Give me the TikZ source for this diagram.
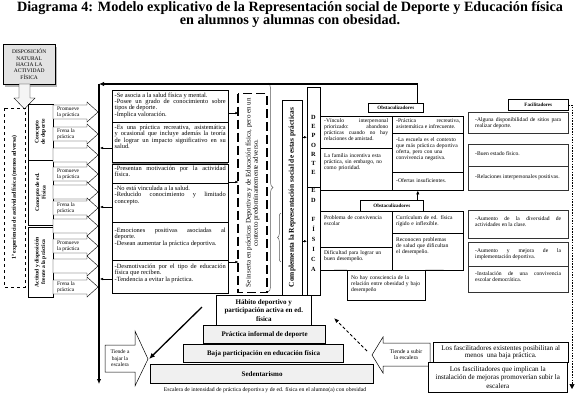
\documentclass[tikz,border=0pt]{standalone}
\usepackage{fontspec}
\setmainfont{Liberation Serif}
\usetikzlibrary{arrows.meta,decorations.pathreplacing,calc}
\newcommand\rarr[3]{%
 \draw[line width=0.4pt, fill=white] (53,#1-7) -- (87,#1-7) -- (87,#1-10) -- (98,#1) -- (87,#1+10) -- (87,#1+7) -- (53,#1+7) -- cycle;
 \node[font=\fontsize{5.4}{5.8}\selectfont, align=left, anchor=west] (#3) at (57,#1) {#2};}
\begin{document}
\begin{tikzpicture}[x=1pt,y=-1pt,
 every node/.style={inner sep=0pt},
 bx/.style={draw, line width=0.45pt, anchor=north west},
 mt/.style={font=\fontsize{6.4}{6.3}\selectfont, align=justify, anchor=north west},
 gt/.style={font=\fontsize{5.6}{6.1}\selectfont, align=justify, anchor=north west},
 sm/.style={line width=0.5pt, -{Latex[length=3pt,width=2.6pt]}},
 hd/.style={draw, line width=0.6pt, anchor=north west, font=\bfseries\fontsize{5}{6}\selectfont},
 fb/.style={draw=black!80, line width=0.9pt, anchor=north west},
 pyr/.style={draw, line width=1.2pt, fill=gray!12, anchor=north west, font=\bfseries\fontsize{7}{8}\selectfont},
 rot/.style={draw, rotate=90, align=center},
]
\useasboundingbox (0,0) rectangle (580,400);

% title
\node[font=\bfseries\fontsize{14.2}{13}\selectfont, align=center] (title) at (290,15)
 {Diagrama 4: Modelo explicativo de la Representación social de Deporte y Educación física\\en alumnos y alumnas con obesidad.};

% disposition box
\fill[gray!55] (5,47) rectangle (57,87);
\node[draw, fill=gray!22, minimum width=52, minimum height=40, anchor=north west, font=\fontsize{5.5}{6.4}\selectfont, align=center] (disp) at (3,44) {DISPOSICIÓN\\NATURAL\\HACIA LA\\ACTIVIDAD\\FÍSICA};
\draw[line width=0.4pt, fill=gray!8] (19,84) -- (30,84) -- (30,98) -- (35,98) -- (24.5,109) -- (14,98) -- (19,98) -- cycle;

% left dashed box and concept boxes
\node[rot, dashed, line width=0.6pt, minimum width=179, minimum height=21, font=\bfseries\fontsize{5.9}{6}\selectfont] (exp) at (14.5,197.5) {1ª experiencia de actividad física (menos adversa)};
\node[rot, minimum width=56, minimum height=25, font=\bfseries\fontsize{5.6}{6.4}\selectfont] (cd) at (40.5,132) {Concepto\\de deporte};
\node[rot, minimum width=65, minimum height=25, font=\bfseries\fontsize{5.6}{6.4}\selectfont] (ce) at (40.5,192.5) {Concepto de ed.\\Física};
\node[rot, minimum width=70, minimum height=25, font=\bfseries\fontsize{5.6}{6.4}\selectfont] (ca) at (40.5,262) {Actitud y disposición\\frente a la práctica};

% arrow column
\rarr{112}{Promueve\\la práctica}{a1}
\rarr{134}{Frena la\\práctica}{a2}
\rarr{155}{}{a3}
\rarr{174}{Promueve\\la práctica}{a4}
\rarr{192}{}{a5}
\rarr{208}{Frena la\\práctica}{a6}
\rarr{226}{}{a7}
\rarr{246}{Promueve\\la práctica}{a8}
\rarr{266}{}{a9}
\rarr{287}{Frena la\\práctica}{a10}

% big vertical line
\coordinate (vt) at (99,84);
\coordinate (vb) at (99,384);
\draw[line width=1.3pt, -{Latex[length=5pt,width=4.5pt]}] (vt) -- (vb);

% middle column
\node[bx, minimum width=116, minimum height=32] (c1) at (112,90) {};
\node[bx, minimum width=116, minimum height=40] (c2) at (112,122) {};
\node[bx, minimum width=116, minimum height=19] (c3) at (112,164) {};
\node[bx, minimum width=116, minimum height=39] (c4) at (112,183) {};
\node[bx, minimum width=116, minimum height=38] (c5) at (112,222) {};
\node[bx, minimum width=116, minimum height=33] (c6) at (112,260) {};
\draw[gray, line width=1.3pt] ($(c2.south west)+(0,1)$) -- ($(c2.south east)+(0,1)$);
\node[mt, text width=111] (t1) at ($(c1.north west)+(2.5,2.5)$) {-Se asocia a la salud física y mental.\\-Posee un grado de conocimiento sobre\linebreak tipos de deporte.\\-Implica valoración.};
\node[mt, text width=111] (t2) at ($(c2.north west)+(2.5,3)$) {-Es una práctica recreativa, asistemática\linebreak y ocasional que incluye además la teoría\linebreak de lograr un impacto significativo en su\linebreak salud.};
\node[mt, text width=111] (t3) at ($(c3.north west)+(2.5,2)$) {-Presentan motivación por la actividad\linebreak física.};
\node[mt, text width=111] (t4) at ($(c4.north west)+(2.5,3)$) {-No está vinculada a la salud.\\-Reducido conocimiento y limitado\linebreak concepto.};
\node[mt, text width=111] (t5) at ($(c5.north west)+(2.5,6)$) {-Emociones positivas asociadas al\linebreak deporte.\\-Desean aumentar la práctica deportiva.};
\node[mt, text width=111] (t6) at ($(c6.north west)+(2.5,4)$) {-Desmotivación por el tipo de educación\linebreak física que reciben.\\-Tendencia a evitar la práctica.};

% dashed context box + braces
\node[rot, line width=1.6pt, dash pattern=on 9pt off 4pt, minimum width=199, minimum height=29, font=\fontsize{7}{7.2}\selectfont] (ins) at (252.5,193) {Se inserta en prácticas Deportivas y de Educación física, pero en un\\contexto predominantemente adverso.};
\draw[sm] ($(c1.north east)+(0,23)$) -- ($(c1.north east)+(10,23)$);
\draw[sm] ($(c3.north east)+(0,18)$) -- ($(c3.north east)+(10,18)$);
\draw[sm] ($(c6.north east)+(0,2)$) -- ($(c6.north east)+(10,2)$);
\draw[sm] ($(c2.north west)+(0,26)$) -- ($(c2.north west)+(-12,26)$);
\draw[sm] ($(c4.north west)+(0,24)$) -- ($(c4.north west)+(-12,24)$);
\draw[sm] ($(c6.north west)+(0,19)$) -- ($(c6.north west)+(-12,19)$);
\draw[gray!70!black, line width=0.5pt, decorate, decoration={brace, amplitude=5pt}] (268,83) -- (268,292);
\draw[gray!70!black, line width=0.5pt, decorate, decoration={brace, amplitude=3.5pt}] (281,262) -- (281,213);

% complementa
\node[rot, minimum width=195, minimum height=20, font=\bfseries\fontsize{7.4}{8}\selectfont] (comp) at (292,197.5) {Complementa la Representación social de estas prácticas};

% DEPORTE / ED FISICA
\node[bx, minimum width=13, minimum height=100] (dep) at (307,87) {};
\node[bx, minimum width=13, minimum height=108] (edf) at (307,187) {};
\node[font=\bfseries\fontsize{6.3}{9.2}\selectfont, align=center] (depl) at (313.5,145) {D\\E\\P\\O\\R\\T\\E};
\node[font=\bfseries\fontsize{6.3}{10}\selectfont, align=center, anchor=north] (edfl) at (313.5,188) {E\\D\\[9pt]F\\Í\\S\\I\\C\\A};
\draw[sm] (comp.south |- dep.west) -- (dep.west);
\draw[sm] (comp.south |- edf.west) -- (edf.west);

% upper obstaculizadores
\node[hd, minimum width=55, minimum height=9] (obs1) at (368,103) {Obstaculizadores};
\draw[line width=1.1pt, -{Latex[length=5pt,width=4.5pt]}] ([xshift=22pt]obs1.north) |- (vt);
\node[bx, minimum width=72, minimum height=32] (oa) at (320,116) {};
\node[bx, minimum width=72, minimum height=42] (ob) at (320,148) {};
\node[bx, minimum width=71, minimum height=17] (oc) at (392,116) {};
\node[bx, minimum width=71, minimum height=39] (od) at (392,133) {};
\node[bx, minimum width=71, minimum height=18] (oe) at (392,172) {};
\node[gt, text width=64] (oat) at ($(oa.north west)+(4,2.5)$) {-Vínculo interpersonal\linebreak priorizado: abandono\linebreak prácticas cuando no hay\linebreak relaciones de amistad.};
\node[gt, text width=64, align=left] (obt) at ($(ob.north west)+(4,5)$) {La familia incentiva esta\\práctica, sin embargo, no\\como prioridad.};
\node[gt, text width=64] (oct) at ($(oc.north west)+(4,2.5)$) {-Práctica recreativa,\linebreak asistemática e infrecuente.};
\node[gt, text width=64, align=left] (odt) at ($(od.north west)+(4,4)$) {-La escuela es el contexto\\que más práctica deportiva\\oferta, pero con una\\convivencia negativa.};
\node[gt, text width=64, align=left] (oet) at ($(oe.north west)+(4,6)$) {-Ofertas insuficientes.};

% lower obstaculizadores
\node[hd, minimum width=63, minimum height=11] (obs2) at (360,200) {Obstaculizadores};
\draw[line width=0.8pt, -{Latex[length=4pt,width=3.5pt]}] ([xshift=26pt]obs2.north) -- ([xshift=26pt]obs2.north |- ob.south);
\node[bx, minimum width=72, minimum height=36] (la) at (320,211) {};
\node[bx, minimum width=72, minimum height=23] (lb) at (320,247) {};
\node[bx, minimum width=71, minimum height=22] (lc) at (392,211) {};
\node[bx, minimum width=71, minimum height=37] (ld) at (392,233) {};
\node[bx, minimum width=78, minimum height=30] (le) at (347,270) {};
\draw[line width=0.45pt] (lb.south west) -- (le.north west);
\draw[line width=0.45pt] (le.north east) -- (ld.south east);
\node[gt, text width=64, align=left] (lat) at ($(la.north west)+(4,4)$) {Problema de convivencia\\escolar};
\node[gt, text width=64, align=left] (lbt) at ($(lb.north west)+(4,3)$) {Dificultad para lograr un\\buen desempeño.};
\node[gt, text width=64, align=left] (lct) at ($(lc.north west)+(4,4)$) {Currículum de ed. física\\rígido e inflexible.};
\node[gt, text width=64, align=left] (ldt) at ($(ld.north west)+(4,4)$) {Reconocen problemas\\de salud que dificultan\\el desempeño.};
\node[gt, text width=74, align=left] (let) at ($(le.north west)+(4,5)$) {No hay consciencia de la\\relación entre obesidad y bajo\\desempeño};

% facilitadores
\node[hd, minimum width=60, minimum height=11] (fac) at (508,99) {Facilitadores};
\coordinate (fd) at (572,389);
\draw[line width=0.5pt, dash pattern=on 1.5pt off 1.2pt, -{Triangle[length=5pt,width=5pt]}] (fac.east) -| (fd);
\node[fb, minimum width=100, minimum height=21] (f1) at (468,112) {};
\node[fb, minimum width=100, minimum height=46] (f2) at (468,144) {};
\node[fb, minimum width=100, minimum height=28] (f3) at (468,210) {};
\node[fb, minimum width=100, minimum height=50] (f4) at (468,242) {};
\draw[black!80, line width=0.7pt] ($(f2.north west)+(0,22)$) -- ($(f2.north east)+(0,22)$);
\draw[black!80, line width=0.7pt] ($(f4.north west)+(0,24)$) -- ($(f4.north east)+(0,24)$);
\node[gt, text width=86] (f1t) at ($(f1.north west)+(7,5)$) {-Alguna disponibilidad de sitios para\linebreak realizar deporte.};
\node[gt, text width=86] (f2at) at ($(f2.north west)+(7,7)$) {-Buen estado físico.};
\node[gt, text width=86] (f2bt) at ($(f2.north west)+(7,30)$) {-Relaciones interpersonales positivas.};
\node[gt, text width=86] (f3t) at ($(f3.north west)+(7,6)$) {-Aumento de la diversidad de\linebreak actividades en la clase.};
\node[gt, text width=86] (f4at) at ($(f4.north west)+(7,6)$) {-Aumento y mejora de la\linebreak implementación deportiva.};
\node[gt, text width=86] (f4bt) at ($(f4.north west)+(7,29)$) {-Instalación de una convivencia\linebreak escolar democrática.};

% pyramid
\node[draw, line width=0.6pt, fill=white, minimum width=95, minimum height=30, anchor=north west, font=\bfseries\fontsize{7}{8.3}\selectfont, align=center] (hab) at (216,295) {Hábito deportivo y\\participación activa en ed.\\física};
\node[pyr, minimum width=122, minimum height=18] (pi) at (203,325) {Práctica informal de deporte};
\node[pyr, minimum width=160, minimum height=18] (bp) at (183,344) {Baja participación en educación física};
\node[pyr, minimum width=223, minimum height=19] (sed) at (150,364) {Sedentarismo};
\node[font=\fontsize{5.7}{6}\selectfont] (cap) at (265,390) {Escalera de intensidad de práctica deportiva y de ed. física en el alumno(a) con obesidad};

% tiende a bajar
\draw[line width=0.5pt, fill=white] (105,345) -- (135,345) -- (135,331) -- (148,359) -- (135,386) -- (135,372) -- (105,372) -- cycle;
\node[font=\fontsize{5.5}{6.4}\selectfont, align=center] (baj) at (120,358.5) {Tiende a\\bajar la\\escalera};
\coordinate (ts) at (202,307);
\coordinate (bt) at (149,359);
\draw[line width=1.3pt, -{Latex[length=6pt,width=5pt]}] (ts) -- (bt);

% tiende a subir
\draw[line width=0.5pt, fill=white] (430,343) -- (383,343) -- (383,337) -- (372,355) -- (383,373) -- (383,366) -- (430,366) -- cycle;
\node[font=\fontsize{5.7}{6.6}\selectfont, align=center] (sub) at (406,354.5) {Tiende a subir\\la escalera};
\coordinate (st) at (367,351);
\coordinate (dt) at (334,318);
\draw[line width=1pt, dash pattern=on 3pt off 2.2pt, -{Latex[length=5pt,width=4pt]}] (st) -- (dt);

% facilitator summary boxes
\node[draw, fill=white, line width=0.5pt, minimum width=135, minimum height=20, anchor=north west, font=\fontsize{7.1}{7.6}\selectfont, align=center] (fx1) at (433,342) {Los fascilitadores existentes posibilitan al\\menos~~una baja práctica.};
\node[draw, fill=white, line width=0.5pt, minimum width=139, minimum height=30, anchor=north west, font=\fontsize{7.1}{8.3}\selectfont, align=center] (fx2) at (428,362) {Los fascilitadores que implican la\\instalación de mejoras promoverían subir la\\escalera};
\end{tikzpicture}
\end{document}
